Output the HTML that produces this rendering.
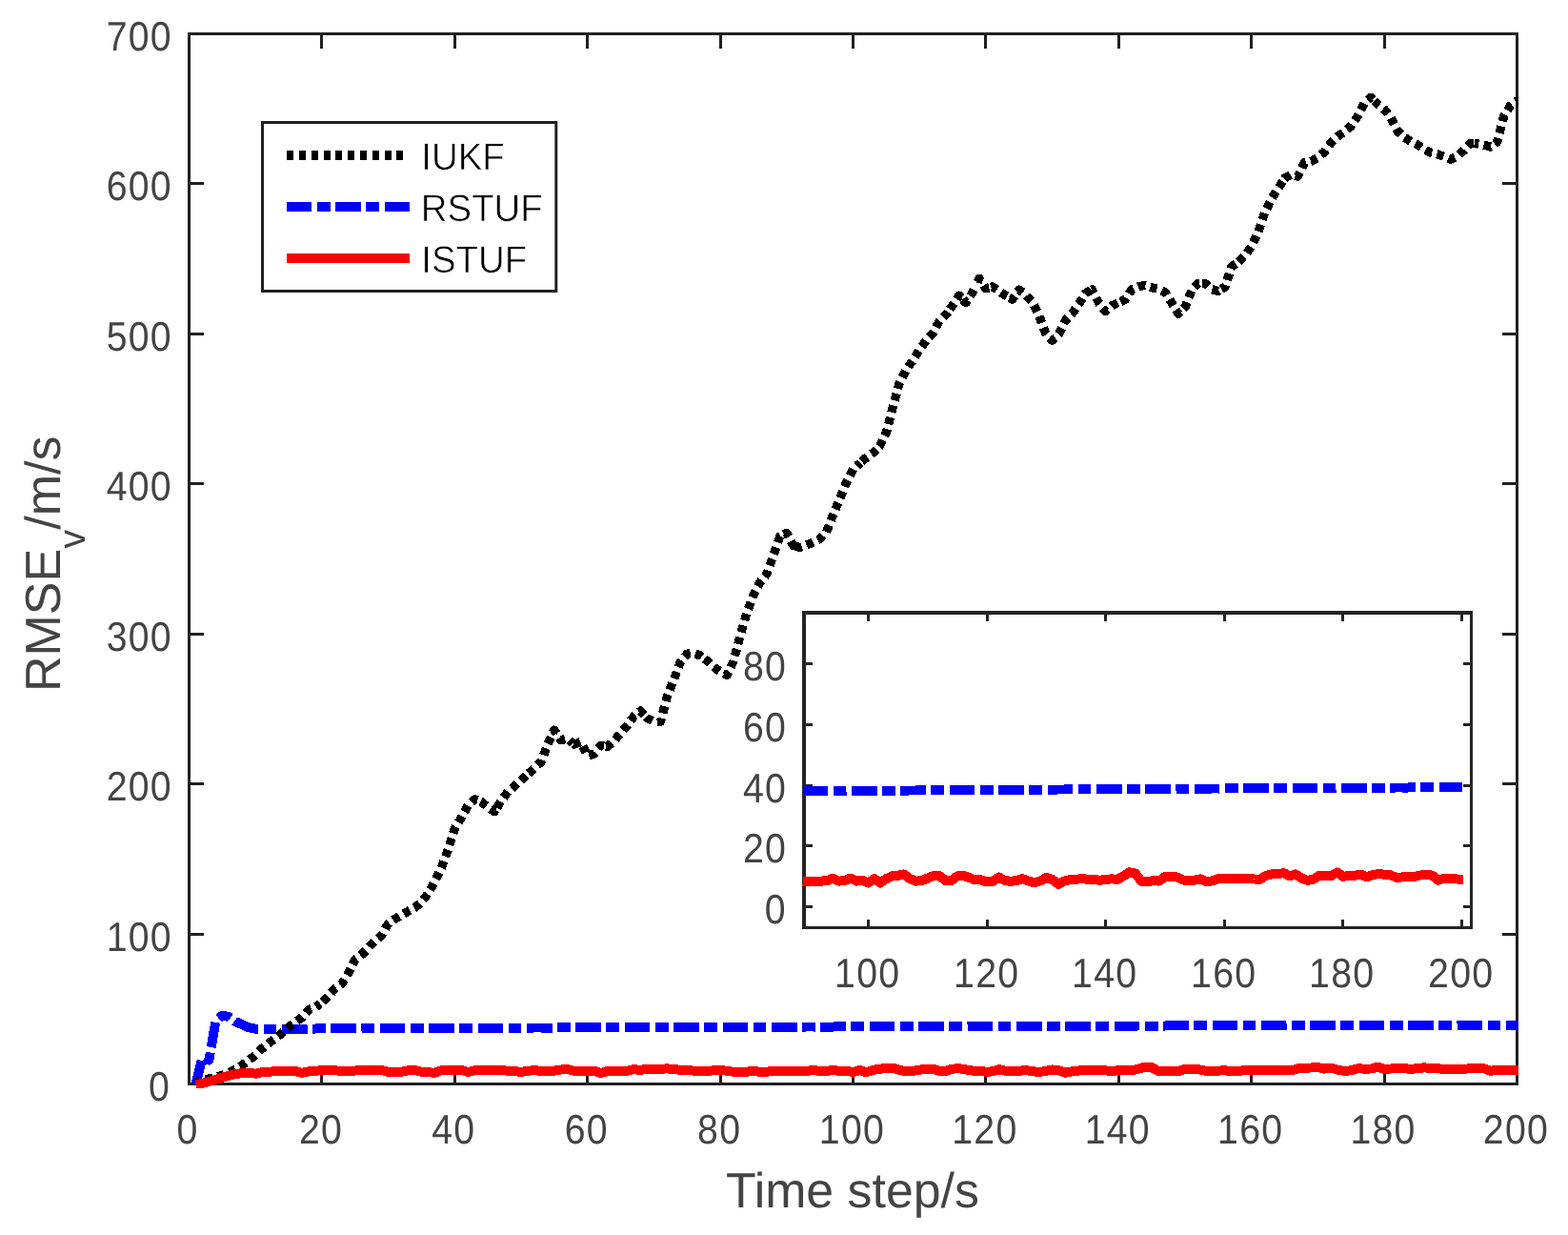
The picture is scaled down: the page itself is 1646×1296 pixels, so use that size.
<!DOCTYPE html>
<html lang="en"><head><meta charset="utf-8"><title>RMSE of velocity</title>
<style>html,body{margin:0;padding:0;background:#fff;overflow:hidden}svg{display:block}text{font-family:"Liberation Sans",sans-serif;text-rendering:geometricPrecision}</style></head><body>
<svg width="1646" height="1296" viewBox="0 0 1646 1296">
<rect width="1646" height="1296" fill="#fff"/>
<g stroke="#202020" stroke-width="3" fill="none">
<rect x="198.5" y="35.5" width="1394.0" height="1102.0"/>
<path d="M337.5 1137.5V1122.0M337.5 35.5V51.0M477.5 1137.5V1122.0M477.5 35.5V51.0M616.5 1137.5V1122.0M616.5 35.5V51.0M756.5 1137.5V1122.0M756.5 35.5V51.0M895.5 1137.5V1122.0M895.5 35.5V51.0M1034.5 1137.5V1122.0M1034.5 35.5V51.0M1174.5 1137.5V1122.0M1174.5 35.5V51.0M1313.5 1137.5V1122.0M1313.5 35.5V51.0M1453.5 1137.5V1122.0M1453.5 35.5V51.0M198.5 980.5H214.0M1592.5 980.5H1577.0M198.5 822.5H214.0M1592.5 822.5H1577.0M198.5 665.5H214.0M1592.5 665.5H1577.0M198.5 507.5H214.0M1592.5 507.5H1577.0M198.5 350.5H214.0M1592.5 350.5H1577.0M198.5 192.5H214.0M1592.5 192.5H1577.0"/>
</g>
<g fill="#444444" font-size="41.5" letter-spacing="1.34">
<text transform="translate(197.10,1199.85) scale(0.945,1.04)" text-anchor="middle">0</text>
<text transform="translate(336.97,1199.85) scale(0.945,1.04)" text-anchor="middle">20</text>
<text transform="translate(476.37,1199.85) scale(0.945,1.04)" text-anchor="middle">40</text>
<text transform="translate(615.77,1199.85) scale(0.945,1.04)" text-anchor="middle">60</text>
<text transform="translate(755.17,1199.85) scale(0.945,1.04)" text-anchor="middle">80</text>
<text transform="translate(894.48,1199.85) scale(0.945,1.04)" text-anchor="middle">100</text>
<text transform="translate(1033.88,1199.85) scale(0.945,1.04)" text-anchor="middle">120</text>
<text transform="translate(1173.28,1199.85) scale(0.945,1.04)" text-anchor="middle">140</text>
<text transform="translate(1312.68,1199.85) scale(0.945,1.04)" text-anchor="middle">160</text>
<text transform="translate(1452.08,1199.85) scale(0.945,1.04)" text-anchor="middle">180</text>
<text transform="translate(1591.48,1199.85) scale(0.945,1.04)" text-anchor="middle">200</text>
<text transform="translate(179.10,1154.85) scale(0.945,1.04)" text-anchor="end">0</text>
<text transform="translate(180.90,997.85) scale(0.945,1.04)" text-anchor="end">100</text>
<text transform="translate(180.90,839.85) scale(0.945,1.04)" text-anchor="end">200</text>
<text transform="translate(180.90,682.85) scale(0.945,1.04)" text-anchor="end">300</text>
<text transform="translate(180.90,524.85) scale(0.945,1.04)" text-anchor="end">400</text>
<text transform="translate(180.90,367.85) scale(0.945,1.04)" text-anchor="end">500</text>
<text transform="translate(180.90,209.85) scale(0.945,1.04)" text-anchor="end">600</text>
<text transform="translate(180.90,52.85) scale(0.945,1.04)" text-anchor="end">700</text>
</g>
<text x="894.9" y="1267.4" font-size="51.85" fill="#444444" text-anchor="middle">Time step/s</text>
<text transform="translate(63.2,726) rotate(-90)" font-size="52" fill="#444444">RMSE<tspan font-size="40" dy="26">v</tspan><tspan dy="-26">/m/s</tspan></text>
<clipPath id="mc"><rect x="197.0" y="34.0" width="1397.0" height="1108.0"/></clipPath>
<g fill="none" stroke-width="10" stroke-linejoin="round" clip-path="url(#mc)" shape-rendering="crispEdges">
<polyline stroke="#0000ff" stroke-dasharray="26.6 5.5 13.8 5.5" stroke-dashoffset="1" points="205.5,1137.8 212.4,1109.5 219.4,1112.5 226.4,1071.8 233.3,1065.6 240.3,1067.1 247.3,1072.1 254.3,1075.2 261.2,1078.3 268.2,1079.6 275.2,1079.9 282.1,1079.9 289.1,1079.8 296.1,1079.7 303.1,1079.7 310.0,1079.6 317.0,1079.6 324.0,1079.5 330.9,1079.5 337.9,1079.4 344.9,1079.4 351.8,1079.3 358.8,1079.3 365.8,1079.3 372.8,1079.3 379.7,1079.2 386.7,1079.2 393.7,1079.2 400.6,1079.2 407.6,1079.1 414.6,1079.1 421.5,1079.1 428.5,1079.1 435.5,1079.0 442.4,1079.0 449.4,1079.0 456.4,1078.9 463.4,1078.9 470.3,1078.9 477.3,1078.9 484.3,1078.8 491.2,1078.8 498.2,1078.8 505.2,1078.8 512.1,1078.7 519.1,1078.7 526.1,1078.7 533.1,1078.7 540.0,1078.6 547.0,1078.6 554.0,1078.6 560.9,1078.5 567.9,1078.5 574.9,1078.5 581.8,1078.5 588.8,1078.4 595.8,1078.4 602.8,1078.4 609.7,1078.4 616.7,1078.3 623.7,1078.3 630.6,1078.3 637.6,1078.3 644.6,1078.2 651.5,1078.2 658.5,1078.2 665.5,1078.2 672.5,1078.1 679.4,1078.1 686.4,1078.1 693.4,1078.1 700.3,1078.0 707.3,1078.0 714.3,1078.0 721.2,1078.0 728.2,1077.9 735.2,1077.9 742.2,1077.9 749.1,1077.9 756.1,1077.8 763.1,1077.8 770.0,1077.8 777.0,1077.8 784.0,1077.8 790.9,1077.7 797.9,1077.7 804.9,1077.7 811.9,1077.6 818.8,1077.6 825.8,1077.6 832.8,1077.6 839.7,1077.6 846.7,1077.5 853.7,1077.5 860.6,1077.5 867.6,1077.5 874.6,1077.5 881.6,1077.4 888.5,1077.4 895.5,1077.4 902.5,1077.4 909.4,1077.4 916.4,1077.3 923.4,1077.3 930.4,1077.3 937.3,1077.3 944.3,1077.3 951.3,1077.2 958.2,1077.2 965.2,1077.2 972.2,1077.2 979.1,1077.2 986.1,1077.1 993.1,1077.1 1000.0,1077.1 1007.0,1077.1 1014.0,1077.1 1021.0,1077.0 1027.9,1077.0 1034.9,1077.0 1041.9,1077.0 1048.8,1077.0 1055.8,1076.9 1062.8,1076.9 1069.8,1076.9 1076.7,1076.9 1083.7,1076.9 1090.7,1076.8 1097.6,1076.8 1104.6,1076.8 1111.6,1076.8 1118.5,1076.8 1125.5,1076.7 1132.5,1076.7 1139.4,1076.7 1146.4,1076.7 1153.4,1076.7 1160.4,1076.6 1167.3,1076.6 1174.3,1076.6 1181.3,1076.6 1188.2,1076.6 1195.2,1076.5 1202.2,1076.5 1209.2,1076.5 1216.1,1076.5 1223.1,1076.5 1230.1,1076.4 1237.0,1076.4 1244.0,1076.4 1251.0,1076.4 1257.9,1076.4 1264.9,1076.4 1271.9,1076.3 1278.8,1076.3 1285.8,1076.3 1292.8,1076.3 1299.8,1076.3 1306.7,1076.3 1313.7,1076.2 1320.7,1076.2 1327.6,1076.2 1334.6,1076.2 1341.6,1076.2 1348.5,1076.2 1355.5,1076.1 1362.5,1076.1 1369.5,1076.1 1376.4,1076.1 1383.4,1076.1 1390.4,1076.1 1397.3,1076.0 1404.3,1076.0 1411.3,1076.0 1418.2,1076.0 1425.2,1076.0 1432.2,1076.0 1439.2,1076.0 1446.1,1075.9 1453.1,1075.9 1460.1,1075.9 1467.0,1075.9 1474.0,1075.9 1481.0,1075.9 1488.0,1075.8 1494.9,1075.8 1501.9,1075.8 1508.9,1075.8 1515.8,1075.8 1522.8,1075.8 1529.8,1075.7 1536.7,1075.7 1543.7,1075.7 1550.7,1075.7 1557.6,1075.7 1564.6,1075.7 1571.6,1075.6 1578.6,1075.6 1585.5,1075.6 1592.5,1075.6 1594.0,1075.6"/>
<g stroke="#000" stroke-width="9.3" stroke-dasharray="7.5 5.3">
<polyline stroke-dashoffset="1.56" points="205.5,1136.7 212.4,1134.4 219.4,1131.8 226.4,1130.3 233.4,1128.4 240.3,1125.5 247.3,1122.2 254.3,1117.6 261.2,1112.9 268.2,1106.8 275.2,1100.3 282.1,1094.6 289.1,1089.6 296.1,1084.0 303.0,1077.7 310.0,1072.7 317.0,1067.7 324.0,1059.6 330.9,1057.1 336.2,1053.3"/>
<polyline stroke-dashoffset="9.42" points="336.2,1053.3 337.9,1052.1 344.9,1045.2 351.8,1037.0 358.8,1032.7 365.8,1020.7 372.8,1006.8 379.7,1001.8 386.7,994.7 393.7,987.2 400.6,981.6 407.6,969.1 414.6,964.3 421.5,960.1 428.5,956.2 435.5,952.6 442.4,946.6 449.4,937.6 456.4,925.0 463.4,910.6 470.3,891.5 477.3,869.6 484.3,858.1 491.2,845.2 498.2,838.9 501.9,840.2"/>
<polyline stroke-dashoffset="9.96" points="501.9,840.2 505.2,841.4 512.2,847.1 519.1,851.8 521.0,848.7"/>
<polyline stroke-dashoffset="11.54" points="521.0,848.7 526.1,840.6 533.1,830.8 540.0,825.2 547.0,818.7 553.7,812.5"/>
<polyline stroke-dashoffset="11.50" points="553.7,812.5 554.0,812.3 560.9,806.3 567.9,799.7 574.9,781.1 581.8,766.1 588.8,776.7 595.8,774.9 601.3,779.8"/>
<polyline stroke-dashoffset="11.46" points="601.3,779.8 602.8,781.1 609.7,778.6 616.7,793.0 623.7,791.1 630.6,782.4 633.9,783.0"/>
<polyline stroke-dashoffset="10.66" points="633.9,783.0 637.6,783.6 644.6,777.4 651.6,769.2 658.5,761.1 665.5,751.7 672.5,746.1 677.2,751.2"/>
<polyline stroke-dashoffset="11.09" points="677.2,751.2 679.4,753.6 686.4,757.3 693.4,757.3 700.3,731.1 707.3,713.5 714.3,694.5 721.2,686.2 728.2,685.4 735.2,687.9 737.6,689.8"/>
<polyline stroke-dashoffset="10.24" points="737.6,689.8 742.2,693.5 749.1,699.8 756.1,704.8 763.1,708.5 770.0,693.9 777.0,667.2 784.0,642.8 790.9,624.7 797.9,610.9 804.9,602.3 811.9,582.7 818.8,562.6 821.3,561.5"/>
<polyline stroke-dashoffset="11.15" points="821.3,561.5 825.8,559.5 832.8,572.6 834.8,573.2"/>
<polyline stroke-dashoffset="0.32" points="834.8,573.2 839.7,574.5 846.7,572.0 853.7,568.9 860.6,565.8 867.6,558.2 874.6,540.1 881.6,523.3 888.5,506.1 895.5,492.3 902.5,486.3 903.2,485.7"/>
<polyline stroke-dashoffset="10.88" points="903.2,485.7 909.4,480.2 916.4,475.3 921.5,470.2"/>
<polyline stroke-dashoffset="10.58" points="921.5,470.2 923.4,468.3 930.4,454.1 937.3,427.2 944.3,401.6 951.3,388.2 958.2,378.2 965.2,367.2 972.2,357.2 979.1,350.3 986.1,336.9 993.1,330.1 995.6,326.6"/>
<polyline stroke-dashoffset="10.15" points="995.6,326.6 1000.0,320.3 1007.0,310.1 1010.0,313.3"/>
<polyline stroke-dashoffset="11.51" points="1010.0,313.3 1014.0,317.6 1021.0,306.8 1024.2,300.1"/>
<polyline stroke-dashoffset="8.23" points="1024.2,300.1 1027.9,292.2 1034.9,302.8 1040.2,301.4"/>
<polyline stroke-dashoffset="0.33" points="1040.2,301.4 1041.9,300.9 1048.8,305.3 1055.8,310.3 1058.7,311.9"/>
<polyline stroke-dashoffset="11.53" points="1058.7,311.9 1062.8,314.1 1069.8,304.1 1076.7,309.1 1083.7,317.3 1090.7,331.0 1097.6,349.8 1104.6,357.3 1111.6,350.4 1118.5,336.0 1125.5,329.1 1132.5,319.1 1139.4,307.8 1146.2,303.9"/>
<polyline stroke-dashoffset="2.94" points="1146.2,303.9 1146.4,303.8 1153.4,317.8 1160.4,326.6 1167.3,320.8 1174.3,317.4 1176.3,316.5"/>
<polyline stroke-dashoffset="0.14" points="1176.3,316.5 1181.3,314.3 1188.2,303.6 1195.2,300.5 1202.2,299.6 1209.2,301.8 1216.1,303.6 1223.1,306.8 1230.1,318.0 1237.0,329.3 1244.0,322.4 1251.0,304.3 1257.9,297.4 1258.9,297.4"/>
<polyline stroke-dashoffset="9.82" points="1258.9,297.4 1264.9,297.4 1271.9,303.6 1278.8,305.5 1282.1,303.4"/>
<polyline stroke-dashoffset="1.02" points="1282.1,303.4 1285.8,301.1 1292.8,279.9 1298.7,275.7"/>
<polyline stroke-dashoffset="10.93" points="1298.7,275.7 1299.8,274.9 1306.7,268.5 1313.7,258.3 1320.7,243.6 1327.6,223.5 1334.6,208.7 1341.6,198.1 1347.3,189.0"/>
<polyline stroke-dashoffset="11.01" points="1347.3,189.0 1348.6,186.9 1355.5,183.1 1362.5,185.0 1366.0,177.9"/>
<polyline stroke-dashoffset="10.91" points="1366.0,177.9 1369.5,170.6 1376.4,169.3 1383.4,165.6 1390.4,159.3 1397.3,149.7 1404.3,143.1 1411.3,138.1 1418.2,132.4 1425.2,122.1 1432.2,108.5 1439.2,102.2 1442.6,105.7"/>
<polyline stroke-dashoffset="0.24" points="1442.6,105.7 1446.1,109.3 1453.1,114.6 1460.1,123.5 1467.0,137.6 1474.0,144.0 1481.0,148.5 1488.0,151.8 1494.9,157.0 1501.9,160.1 1508.9,161.7 1515.8,164.4 1522.8,167.1 1529.8,164.0 1536.7,157.8 1543.7,150.2 1547.7,150.6"/>
<polyline stroke-dashoffset="2.95" points="1547.7,150.6 1550.7,150.9 1557.6,152.1 1564.6,154.0 1571.6,149.0 1578.6,122.1 1585.5,110.8 1592.5,105.8 1594.0,105.8"/>
</g>
<polyline stroke="#ff0000" points="205.5,1138.2 212.4,1136.9 219.4,1134.9 226.4,1132.9 233.3,1130.7 240.3,1128.7 247.3,1127.2 254.3,1126.0 261.2,1125.7 268.2,1126.7 275.2,1125.2 282.1,1124.7 289.1,1124.3 296.1,1124.0 303.1,1124.0 310.0,1124.0 317.0,1125.8 324.0,1124.4 330.9,1123.7 337.9,1123.3 344.9,1123.4 351.8,1123.4 358.8,1123.7 365.8,1123.8 372.8,1123.5 379.7,1123.4 386.7,1123.4 393.7,1123.5 400.6,1123.0 407.6,1125.0 414.6,1124.6 421.5,1124.8 428.5,1123.2 435.5,1123.0 442.4,1124.7 449.4,1125.3 456.4,1125.7 463.4,1123.2 470.3,1122.6 477.3,1122.6 484.3,1122.8 491.2,1125.0 498.2,1123.3 505.2,1122.6 512.1,1122.7 519.1,1123.0 526.1,1123.3 533.1,1123.6 540.0,1124.0 547.0,1125.0 554.0,1123.7 560.9,1123.3 567.9,1123.7 574.9,1124.3 581.8,1123.6 588.8,1122.5 595.8,1122.2 602.8,1123.7 609.7,1123.7 616.7,1123.7 623.7,1123.7 630.6,1126.1 637.6,1124.0 644.6,1123.8 651.5,1123.7 658.5,1123.7 665.5,1122.1 672.5,1123.0 679.4,1121.6 686.4,1121.8 693.4,1121.7 700.3,1121.4 707.3,1122.1 714.3,1122.8 721.2,1123.0 728.2,1123.6 735.2,1124.1 742.2,1124.2 749.1,1123.2 756.1,1122.8 763.1,1123.8 770.0,1124.8 777.0,1124.5 784.0,1124.8 790.9,1123.7 797.9,1125.0 804.9,1124.7 811.9,1123.8 818.8,1124.3 825.8,1124.4 832.8,1124.2 839.7,1124.2 846.7,1124.0 853.7,1122.7 860.6,1124.2 867.6,1124.0 874.6,1122.7 881.6,1124.2 888.5,1123.8 895.5,1125.2 902.5,1123.0 909.4,1125.2 916.4,1123.0 923.4,1121.6 930.4,1121.3 937.3,1120.7 944.3,1123.0 951.3,1124.2 958.2,1124.0 965.2,1122.7 972.2,1121.5 979.1,1121.5 986.1,1123.9 993.1,1123.9 1000.0,1121.6 1007.0,1121.3 1014.0,1122.4 1021.0,1123.6 1027.9,1123.6 1034.9,1124.7 1041.9,1124.4 1048.8,1122.2 1055.8,1123.9 1062.8,1124.4 1069.8,1123.9 1076.7,1123.0 1083.7,1124.2 1090.7,1125.0 1097.6,1124.0 1104.6,1122.5 1111.6,1123.3 1118.5,1125.8 1125.5,1124.2 1132.5,1123.5 1139.4,1123.3 1146.4,1123.0 1153.4,1123.3 1160.4,1123.4 1167.3,1123.8 1174.3,1123.3 1181.3,1123.1 1188.2,1123.3 1195.2,1121.6 1202.2,1119.6 1209.2,1120.2 1216.1,1124.2 1223.1,1124.4 1230.1,1124.0 1237.0,1124.2 1244.0,1121.9 1251.0,1121.9 1257.9,1122.1 1264.9,1123.6 1271.9,1124.2 1278.8,1123.7 1285.8,1123.1 1292.8,1124.5 1299.8,1124.0 1306.7,1123.0 1313.7,1123.0 1320.7,1123.0 1327.6,1123.0 1334.6,1123.2 1341.6,1122.8 1348.5,1123.2 1355.5,1123.3 1362.5,1121.4 1369.5,1120.6 1376.4,1120.5 1383.4,1120.0 1390.4,1121.6 1397.3,1120.6 1404.3,1122.7 1411.3,1123.9 1418.2,1123.3 1425.2,1121.3 1432.2,1121.6 1439.2,1121.5 1446.1,1119.7 1453.1,1121.8 1460.1,1121.5 1467.0,1121.3 1474.0,1120.8 1481.0,1122.1 1488.0,1121.0 1494.9,1120.4 1501.9,1120.8 1508.9,1121.1 1515.8,1122.4 1522.8,1122.1 1529.8,1122.0 1536.7,1121.8 1543.7,1121.2 1550.7,1121.0 1557.6,1121.2 1564.6,1123.8 1571.6,1122.8 1578.6,1123.1 1585.5,1123.1 1592.5,1123.4 1594.0,1123.4"/>
</g>
<rect x="275.5" y="128.5" width="308.3" height="177" fill="#fff" stroke="#202020" stroke-width="3"/>
<g fill="none" stroke-width="10" shape-rendering="crispEdges">
<path d="M301.1 163H424.3" stroke="#000" stroke-dasharray="7.1 5.7"/>
<path d="M301.1 217H430" stroke="#0000ff" stroke-dasharray="26.3 5.8 13.8 5.3"/>
<path d="M301.1 271H430" stroke="#ff0000"/>
</g>
<g fill="#000" font-size="39.8" stroke="#fff" stroke-width="0.6">
<text transform="translate(442.3,178.3) scale(0.965,1)">IUKF</text>
<text transform="translate(441.8,232.2) scale(0.965,1)">RSTUF</text>
<text transform="translate(442.3,286.3) scale(0.965,1)">ISTUF</text>
</g>
<rect x="844.0" y="643.0" width="700.5" height="330.4" fill="#fff"/>
<g stroke="#242424" stroke-width="3" fill="none">
<path d="M842.0 973.4H1544.5V641.0"/>
<path stroke-width="4" stroke-linecap="square" d="M844.0 972.9V643.0H1544.0"/>
<path d="M911.5 973.4V965.0M911.5 643.0V652.0M1036.5 973.4V965.0M1036.5 643.0V652.0M1160.5 973.4V965.0M1160.5 643.0V652.0M1285.5 973.4V965.0M1285.5 643.0V652.0M1409.5 973.4V965.0M1409.5 643.0V652.0M1534.5 973.4V965.0M1534.5 643.0V652.0M844.0 951.5H853.0M1544.5 951.5H1536.0M844.0 887.5H853.0M1544.5 887.5H1536.0M844.0 824.5H853.0M1544.5 824.5H1536.0M844.0 760.5H853.0M1544.5 760.5H1536.0M844.0 696.5H853.0M1544.5 696.5H1536.0"/>
</g>
<g fill="#444444" font-size="41.5" letter-spacing="1.34">
<text transform="translate(910.68,1035.85) scale(0.945,1.04)" text-anchor="middle">100</text>
<text transform="translate(1035.68,1035.85) scale(0.945,1.04)" text-anchor="middle">120</text>
<text transform="translate(1159.68,1035.85) scale(0.945,1.04)" text-anchor="middle">140</text>
<text transform="translate(1284.68,1035.85) scale(0.945,1.04)" text-anchor="middle">160</text>
<text transform="translate(1408.68,1035.85) scale(0.945,1.04)" text-anchor="middle">180</text>
<text transform="translate(1533.68,1035.85) scale(0.945,1.04)" text-anchor="middle">200</text>
<text transform="translate(825.93,968.85) scale(0.945,1.04)" text-anchor="end">0</text>
<text transform="translate(826.13,904.85) scale(0.945,1.04)" text-anchor="end">20</text>
<text transform="translate(826.13,841.85) scale(0.945,1.04)" text-anchor="end">40</text>
<text transform="translate(826.13,777.85) scale(0.945,1.04)" text-anchor="end">60</text>
<text transform="translate(826.13,713.85) scale(0.945,1.04)" text-anchor="end">80</text>
</g>
<g fill="none" stroke-width="10" stroke-linejoin="round" shape-rendering="crispEdges">
<polyline stroke="#0000ff" stroke-dasharray="26.6 5.5 13.8 5.5" points="842.6,830.3 849.2,830.2 855.4,830.2 861.7,830.1 867.9,830.1 874.1,830.1 880.4,830.0 886.6,830.0 892.8,829.9 899.0,829.9 905.3,829.9 911.5,829.8 917.7,829.8 924.0,829.7 930.2,829.7 936.4,829.7 942.6,829.6 948.9,829.6 955.1,829.5 961.3,829.5 967.6,829.4 973.8,829.4 980.0,829.4 986.3,829.3 992.5,829.3 998.7,829.2 1005.0,829.2 1011.2,829.2 1017.4,829.1 1023.6,829.1 1029.9,829.0 1036.1,829.0 1042.3,829.0 1048.6,828.9 1054.8,828.9 1061.0,828.8 1067.2,828.8 1073.5,828.8 1079.7,828.7 1085.9,828.7 1092.2,828.6 1098.4,828.6 1104.6,828.6 1110.9,828.5 1117.1,828.5 1123.3,828.4 1129.5,828.4 1135.8,828.4 1142.0,828.3 1148.2,828.3 1154.5,828.2 1160.7,828.2 1166.9,828.2 1173.2,828.1 1179.4,828.1 1185.6,828.0 1191.8,828.0 1198.1,828.0 1204.3,827.9 1210.5,827.9 1216.8,827.8 1223.0,827.8 1229.2,827.8 1235.5,827.7 1241.7,827.7 1247.9,827.7 1254.2,827.6 1260.4,827.6 1266.6,827.6 1272.8,827.5 1279.1,827.5 1285.3,827.5 1291.5,827.4 1297.8,827.4 1304.0,827.4 1310.2,827.3 1316.5,827.3 1322.7,827.3 1328.9,827.2 1335.1,827.2 1341.4,827.2 1347.6,827.1 1353.8,827.1 1360.1,827.1 1366.3,827.0 1372.5,827.0 1378.8,827.0 1385.0,826.9 1391.2,826.9 1397.4,826.9 1403.7,826.8 1409.9,826.8 1416.1,826.8 1422.4,826.8 1428.6,826.7 1434.8,826.7 1441.1,826.7 1447.3,826.6 1453.5,826.6 1459.7,826.6 1466.0,826.5 1472.2,826.5 1478.4,826.5 1484.7,826.4 1490.9,826.4 1497.1,826.4 1503.3,826.3 1509.6,826.3 1515.8,826.3 1522.0,826.2 1528.3,826.2 1534.5,826.2 1535.3,826.2"/>
<polyline stroke="#ff0000" points="842.6,924.7 849.2,924.9 855.4,924.6 861.7,924.6 867.9,924.3 874.1,921.5 880.4,924.6 886.6,924.3 892.8,921.5 899.0,924.6 905.3,923.8 911.5,926.5 917.7,922.1 924.0,926.5 930.2,922.1 936.4,919.4 942.6,918.8 948.9,917.5 955.1,922.1 961.3,924.6 967.6,924.3 973.8,921.5 980.0,919.0 986.3,919.0 992.5,924.0 998.7,924.0 1005.0,919.3 1011.2,918.8 1017.4,920.9 1023.6,923.4 1029.9,923.4 1036.1,925.5 1042.3,924.9 1048.6,920.5 1054.8,924.0 1061.0,924.9 1067.2,924.0 1073.5,922.1 1079.7,924.6 1085.9,926.3 1092.2,924.3 1098.4,921.1 1104.6,922.8 1110.9,927.8 1117.1,924.6 1123.3,923.1 1129.5,922.8 1135.8,922.1 1142.0,922.8 1148.2,923.0 1154.5,923.8 1160.7,922.8 1166.9,922.4 1173.2,922.8 1179.4,919.3 1185.6,915.3 1191.8,916.5 1198.1,924.6 1204.3,925.0 1210.5,924.3 1216.8,924.6 1223.0,920.0 1229.2,920.0 1235.5,920.4 1241.7,923.3 1247.9,924.5 1254.2,923.5 1260.4,922.4 1266.6,925.3 1272.8,924.3 1279.1,922.1 1285.3,922.1 1291.5,922.1 1297.8,922.1 1304.0,922.5 1310.2,921.8 1316.5,922.5 1322.7,922.8 1328.9,918.9 1335.1,917.3 1341.4,917.1 1347.6,916.1 1353.8,919.3 1360.1,917.4 1366.3,921.5 1372.5,923.9 1378.8,922.8 1385.0,918.6 1391.2,919.3 1397.4,919.1 1403.7,915.5 1409.9,919.8 1416.1,919.0 1422.4,918.8 1428.6,917.6 1434.8,920.4 1441.1,918.1 1447.3,916.9 1453.5,917.8 1459.7,918.4 1466.0,920.9 1472.2,920.4 1478.4,920.1 1484.7,919.8 1490.9,918.5 1497.1,918.0 1503.3,918.5 1509.6,923.8 1515.8,921.8 1522.0,922.3 1528.3,922.3 1534.5,923.0 1536.0,923.0"/>
</g>
</svg></body></html>
